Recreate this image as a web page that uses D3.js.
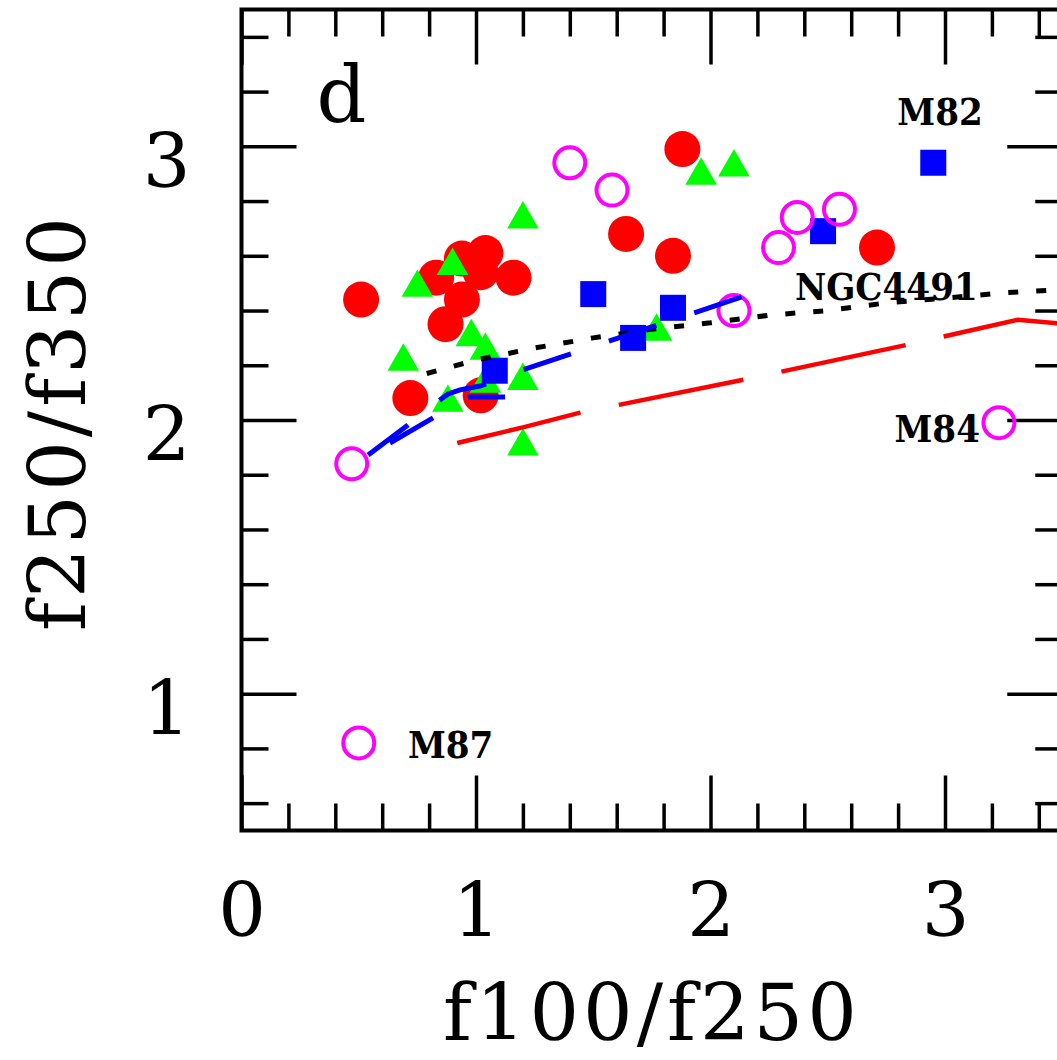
<!DOCTYPE html>
<html>
<head>
<meta charset="utf-8">
<script src="https://cdn.jsdelivr.net/npm/d3@7"></script>
<style>
  body { margin: 0; background: #fff; }
  svg { display: block; }
</style>
</head>
<body>
<script>
// galaxies
const redX = [0.51, 0.83, 0.94, 1.04, 1.02, 1.16, 0.94, 0.87, 0.72, 1.02, 1.88, 1.64, 1.84, 2.71];
const redY = [2.44, 2.52, 2.59, 2.61, 2.54, 2.52, 2.44, 2.35, 2.08, 2.09, 2.99, 2.68, 2.60, 2.63];

const greenX = [0.69, 0.75, 0.90, 0.98, 1.04, 0.88, 1.20, 1.20, 1.20, 1.96, 2.10, 1.77, 1.04];
const greenY = [2.23, 2.50, 2.58, 2.32, 2.27, 2.08, 2.16, 1.92, 2.75, 2.91, 2.94, 2.34, 2.15];

const blueX = [1.08, 1.50, 1.84, 1.67, 2.48, 2.95];
const blueY = [2.18, 2.46, 2.41, 2.30, 2.69, 2.94];

const magentaX = [1.40, 1.58, 2.37, 2.55, 2.29, 2.10, 0.47, 0.50, 3.23];
const magentaY = [2.94, 2.84, 2.74, 2.77, 2.63, 2.40, 1.84, 0.82, 1.99];

// model tracks
const ngcX = [0.79, 1.0, 1.25, 1.5, 1.75, 2.0, 2.25, 2.5, 2.75, 3.0, 3.25, 3.5];
const ngcY = [2.17, 2.219, 2.263, 2.30, 2.332, 2.355, 2.383, 2.40, 2.428, 2.445, 2.465, 2.476];

const redLineX = [0.92, 1.2, 1.44, 2.14, 2.84, 3.31, 3.5];
const redLineY = [1.916, 1.973, 2.026, 2.147, 2.275, 2.366, 2.352];

const blueAX = [0.54, 0.71, 0.846, 0.881, 0.932, 1.017, 1.20, 2.134];
const blueAY = [1.872, 1.982, 2.073, 2.095, 2.110, 2.124, 2.183, 2.450];

const blueBX = [0.633, 0.817, 0.966, 1.124];
const blueBY = [1.916, 2.008, 2.084, 2.084];

// labels (data coordinates)
const labelText = ["M82", "NGC4491", "M84", "M87"];
const labelX = [2.979, 2.360, 3.149, 0.710];
const labelY = [3.078, 2.439, 1.920, 0.765];

// ticks
const xMajorTicks = [0, 1, 2, 3];
const xMinorTicks = [0.2, 0.4, 0.6, 0.8, 1.2, 1.4, 1.6, 1.8, 2.2, 2.4, 2.6, 2.8, 3.2, 3.4];
const yMajorTicks = [1, 2, 3];
const yMinorTicks = [0.6, 0.8, 1.2, 1.4, 1.6, 1.8, 2.2, 2.4, 2.6, 2.8, 3.2, 3.4];

const WIDTH = 1057;
const HEIGHT = 1060;
const SERIF = "'DejaVu Serif', 'Liberation Serif', serif";
const LABEL_FONT = "'DejaVu Serif Condensed', 'DejaVu Serif', serif";

const svg = d3.select("body").append("svg")
    .attr("width", WIDTH)
    .attr("height", HEIGHT);

const x = d3.scaleLinear().domain([0, 3.5]).range([241.5, 1062.25]);
const y = d3.scaleLinear().domain([0.5, 3.5]).range([830.5, 9.5]);

function zip(xs, ys) {
    return xs.map((v, i) => [v, ys[i]]);
}

function styleAxis(g) {
    g.select(".domain").remove();
    g.selectAll(".tick line").attr("stroke", "#000").attr("stroke-width", 3.5);
    g.attr("font-family", SERIF).attr("font-size", 75);
    g.selectAll(".tick text").attr("fill", "#000");
}

// bottom / top
svg.append("g")
    .attr("transform", `translate(0,${y(0.5)})`)
    .call(d3.axisBottom(x).tickValues(xMajorTicks).tickSize(-55).tickPadding(52).tickFormat(d3.format("d")))
    .call(styleAxis);
svg.append("g")
    .attr("transform", `translate(0,${y(0.5)})`)
    .call(d3.axisBottom(x).tickValues(xMinorTicks).tickSize(-27).tickFormat(""))
    .call(styleAxis);
svg.append("g")
    .attr("transform", `translate(0,${y(3.5)})`)
    .call(d3.axisTop(x).tickValues(xMajorTicks).tickSize(-55).tickFormat(""))
    .call(styleAxis);
svg.append("g")
    .attr("transform", `translate(0,${y(3.5)})`)
    .call(d3.axisTop(x).tickValues(xMinorTicks).tickSize(-27).tickFormat(""))
    .call(styleAxis);

// left / right
svg.append("g")
    .attr("transform", `translate(${x(0)},0)`)
    .call(d3.axisLeft(y).tickValues(yMajorTicks).tickSize(-55).tickPadding(51).tickFormat(d3.format("d")))
    .call(styleAxis)
    .call(g => g.selectAll(".tick text").attr("dy", "0.53em"));
svg.append("g")
    .attr("transform", `translate(${x(0)},0)`)
    .call(d3.axisLeft(y).tickValues(yMinorTicks).tickSize(-27).tickFormat(""))
    .call(styleAxis);
svg.append("g")
    .attr("transform", `translate(${x(3.5)},0)`)
    .call(d3.axisRight(y).tickValues(yMajorTicks).tickSize(-55).tickFormat(""))
    .call(styleAxis);
svg.append("g")
    .attr("transform", `translate(${x(3.5)},0)`)
    .call(d3.axisRight(y).tickValues(yMinorTicks).tickSize(-27).tickFormat(""))
    .call(styleAxis);

// frame
svg.append("rect")
    .attr("x", x(0))
    .attr("y", y(3.5))
    .attr("width", x(3.5) - x(0))
    .attr("height", y(0.5) - y(3.5))
    .attr("fill", "none")
    .attr("stroke", "#000")
    .attr("stroke-width", 4);

// points
const points = svg.append("g");

points.selectAll(".red")
    .data(zip(redX, redY))
    .enter().append("circle")
    .attr("cx", d => x(d[0]))
    .attr("cy", d => y(d[1]))
    .attr("r", 18)
    .attr("fill", "#ff0000");

const tri = "M0,-13.7L15.8,13.7L-15.8,13.7Z";
points.selectAll(".green")
    .data(zip(greenX, greenY))
    .enter().append("path")
    .attr("d", tri)
    .attr("transform", d => `translate(${x(d[0])},${y(d[1])})`)
    .attr("fill", "#00ff00");

points.selectAll(".blue")
    .data(zip(blueX, blueY))
    .enter().append("rect")
    .attr("x", d => x(d[0]) - 13)
    .attr("y", d => y(d[1]) - 13)
    .attr("width", 26)
    .attr("height", 26)
    .attr("fill", "#0000ff");

points.selectAll(".magenta")
    .data(zip(magentaX, magentaY))
    .enter().append("circle")
    .attr("cx", d => x(d[0]))
    .attr("cy", d => y(d[1]))
    .attr("r", 15.5)
    .attr("fill", "none")
    .attr("stroke", "#ff00ff")
    .attr("stroke-width", 4);

// tracks
const line = d3.line().x(d => x(d[0])).y(d => y(d[1]));

function track(xs, ys, color, dash, width) {
    svg.append("path")
        .datum(zip(xs, ys))
        .attr("d", line)
        .attr("fill", "none")
        .attr("stroke", color)
        .attr("stroke-width", width)
        .attr("stroke-dasharray", dash);
}

track(redLineX, redLineY, "#ff0000", "127,39", 4.5);
track(ngcX, ngcY, "#000", "10,18", 5);
track(blueAX, blueAY, "#0000ff", "50,40", 5);
track(blueBX, blueBY, "#0000ff", "50,40", 5);

// labels
const anchors = { "M82": "middle", "NGC4491": "start", "M84": "end", "M87": "start" };
svg.selectAll(".label")
    .data(labelText)
    .enter().append("text")
    .attr("x", (d, i) => x(labelX[i]))
    .attr("y", (d, i) => y(labelY[i]))
    .attr("text-anchor", d => anchors[d])
    .attr("font-family", LABEL_FONT)
    .attr("font-stretch", "condensed")
    .attr("font-weight", "bold")
    .attr("font-size", 38)
    .text(d => d);

svg.append("text")
    .attr("x", x(0.32))
    .attr("y", y(3.09))
    .attr("font-family", SERIF)
    .attr("font-size", 78)
    .text("d");

// axis titles
svg.append("text")
    .attr("x", (x(0) + x(3.5)) / 2)
    .attr("y", 1040)
    .attr("text-anchor", "middle")
    .attr("font-family", SERIF)
    .attr("font-size", 78)
    .attr("letter-spacing", 4)
    .text("f100/f250");

svg.append("text")
    .attr("transform", "translate(85,422) rotate(-90)")
    .attr("text-anchor", "middle")
    .attr("font-family", SERIF)
    .attr("font-size", 78)
    .attr("letter-spacing", 4)
    .text("f250/f350");
</script>
</body>
</html>
